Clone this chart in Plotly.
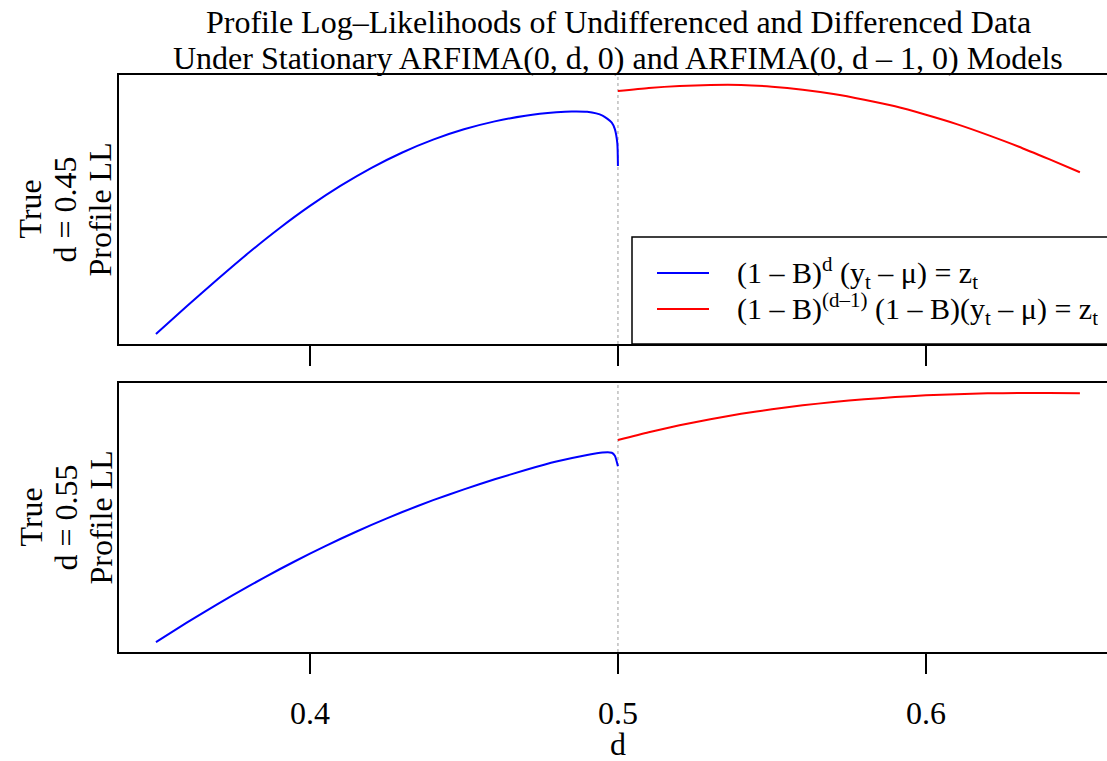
import plotly.graph_objects as go

# Profile log-likelihood (arbitrary offset) against the fractional difference d
d_lo = [0.35, 0.36, 0.37, 0.38, 0.39, 0.40, 0.41, 0.42, 0.43, 0.44, 0.45,
        0.46, 0.47, 0.48, 0.485, 0.49, 0.495, 0.498, 0.499, 0.4998, 0.5]
d_hi = [0.50, 0.51, 0.52, 0.53, 0.54, 0.55, 0.56, 0.57, 0.58, 0.59, 0.60,
        0.61, 0.62, 0.63, 0.64, 0.65]

# True d = 0.45
ll45_undiff = [9.7, 37.3, 64.3, 90.4, 114.9, 137.4, 157.6, 175.4, 190.7, 203.5, 213.8,
               221.7, 227.3, 230.7, 231.6, 231.2, 227.5, 220.5, 214.0, 200.0, 177.3]
ll45_diff = [252.0, 255.0, 257.0, 258.0, 258.0, 256.3, 253.3, 249.0, 243.3, 236.7, 228.3,
             219.0, 208.3, 196.7, 184.0, 171.0]

# True d = 0.55
d_lo55 = [0.35, 0.36, 0.37, 0.38, 0.39, 0.40, 0.41, 0.42, 0.43, 0.44, 0.45,
          0.46, 0.47, 0.48, 0.49, 0.495, 0.498, 0.499, 0.5]
ll55_undiff = [11.0, 30.3, 48.8, 66.4, 83.2, 99.0, 113.8, 127.6, 140.4, 152.2, 163.0,
               173.0, 182.2, 190.6, 197.2, 199.6, 199.4, 196.5, 186.0]
ll55_diff = [212.0, 219.8, 226.7, 232.8, 238.1, 242.7, 246.6, 249.9, 252.6, 254.8, 256.5,
             257.7, 258.5, 258.9, 258.9, 258.6]

tick_vals = [0.4, 0.5, 0.6]
tick_text = ["0.4", "0.5", "0.6"]

W, H = 1107, 761
L = 119
FONT = "Liberation Serif"
FS = 32
FS_LEG = 30


def fx(px):
    return (px - L) / (W - L)


def fy(py):
    return 1 - py / H


def yrange(*series):
    vals = [v for s in series for v in s]
    lo, hi = min(vals), max(vals)
    pad = 0.04 * (hi - lo)
    return [lo - pad, hi + pad]


fig = go.Figure()
line_kw = dict(width=2, shape="spline", smoothing=0.6)
fig.add_trace(go.Scatter(x=d_lo, y=ll45_undiff, mode="lines", xaxis="x", yaxis="y",
                         line=dict(color="blue", **line_kw), showlegend=False))
fig.add_trace(go.Scatter(x=d_hi, y=ll45_diff, mode="lines", xaxis="x", yaxis="y",
                         line=dict(color="red", **line_kw), showlegend=False))
fig.add_trace(go.Scatter(x=d_lo55, y=ll55_undiff, mode="lines", xaxis="x2", yaxis="y2",
                         line=dict(color="blue", **line_kw), showlegend=False))
fig.add_trace(go.Scatter(x=d_hi, y=ll55_diff, mode="lines", xaxis="x2", yaxis="y2",
                         line=dict(color="red", **line_kw), showlegend=False))

xr = [0.338, 0.6588]
xax = dict(domain=[0, 1], range=xr, showline=True, linecolor="black", linewidth=1.5,
           mirror=True, ticks="outside", ticklen=20, tickwidth=1.5, tickcolor="black",
           tickvals=tick_vals, ticktext=tick_text, showgrid=False, zeroline=False)
yax = dict(showline=True, linecolor="black", linewidth=1.5, showticklabels=False,
           ticks="", showgrid=False, zeroline=False)

fig.update_layout(
    width=W, height=H,
    margin=dict(l=L, r=0, t=0, b=0),
    paper_bgcolor="white", plot_bgcolor="white",
    font=dict(family=FONT, size=FS, color="black"),
    xaxis=dict(anchor="y", showticklabels=False, **xax),
    xaxis2=dict(anchor="y2", showticklabels=True, ticklabelstandoff=12,
                tickfont=dict(family=FONT, size=FS), **xax),
    yaxis=dict(anchor="x", domain=[fy(344), fy(75)],
               range=yrange(ll45_undiff, ll45_diff), **yax),
    yaxis2=dict(anchor="x2", domain=[fy(652), fy(383)],
                range=yrange(ll55_undiff, ll55_diff), **yax),
)

# dotted reference line at the stationarity boundary d = 0.5
for xa, yd in (("x", "y domain"), ("x2", "y2 domain")):
    fig.add_shape(type="line", xref=xa, yref=yd, x0=0.5, x1=0.5, y0=0, y1=1,
                  line=dict(color="#BEBEBE", width=1.5, dash="dot"), layer="below")

ann = []
# title
ann.append(dict(text="Profile Log–Likelihoods of Undifferenced and Differenced Data",
                x=fx(618), y=fy(22), xref="paper", yref="paper", showarrow=False,
                xanchor="center", yanchor="middle"))
ann.append(dict(text="Under Stationary ARFIMA(0, d, 0) and ARFIMA(0, d – 1, 0) Models",
                x=fx(618), y=fy(58), xref="paper", yref="paper", showarrow=False,
                xanchor="center", yanchor="middle"))
# x axis title
ann.append(dict(text="d", x=fx(618), y=fy(744), xref="paper", yref="paper",
                showarrow=False, xanchor="center", yanchor="middle",
                height=34, valign="middle"))
# row labels
for cy, true_d in ((209.5, "0.45"), (517.5, "0.55")):
    for cx, txt in ((30, "True"), (65, "d = " + true_d), (100, "Profile LL")):
        ann.append(dict(text=txt, x=fx(cx), y=fy(cy), xref="paper", yref="paper",
                        showarrow=False, textangle=-90, xanchor="center",
                        yanchor="middle"))

# legend
fig.add_shape(type="rect", xref="paper", yref="paper", x0=fx(632), x1=fx(1125),
              y0=fy(344), y1=fy(237), line=dict(color="black", width=1.5),
              fillcolor="white", layer="above")
legend_items = [
    ("blue", 273, "(1 – B)<sup>d</sup> (y<sub>t</sub> – μ) = z<sub>t</sub>"),
    ("red", 309, "(1 – B)<sup>(d–1)</sup> (1 – B)(y<sub>t</sub> – μ) = z<sub>t</sub>"),
]
for col, py, txt in legend_items:
    fig.add_shape(type="line", xref="paper", yref="paper", x0=fx(657), x1=fx(709),
                  y0=fy(py), y1=fy(py), line=dict(color=col, width=2), layer="above")
    ann.append(dict(text=txt, x=fx(735), y=fy(py), xref="paper", yref="paper",
                    showarrow=False, xanchor="left", yanchor="middle",
                    height=34, valign="middle",
                    font=dict(family=FONT, size=FS_LEG)))

fig.update_layout(annotations=ann)
fig.write_html("out.html")
